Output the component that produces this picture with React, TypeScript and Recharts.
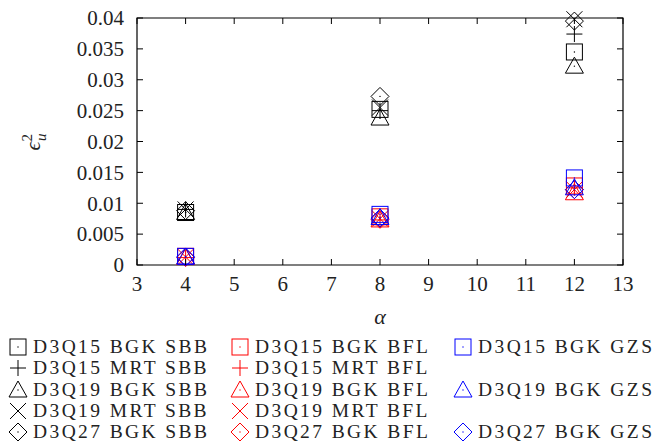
import { ScatterChart, Scatter, XAxis, YAxis, ReferenceArea } from 'recharts'

// alpha values on the x axis
const alphas = [4, 8, 12]
const xTicks = [3, 4, 5, 6, 7, 8, 9, 10, 11, 12, 13]
const yTicks = [0, 0.005, 0.01, 0.015, 0.02, 0.025, 0.03, 0.035, 0.04]

// error values, one per alpha
const d3q15BgkSbb = [0.0085, 0.0252, 0.0345]
const d3q15MrtSbb = [0.009, 0.025, 0.0374]
const d3q19BgkSbb = [0.0085, 0.0238, 0.0322]
const d3q19MrtSbb = [0.009, 0.0255, 0.0398]
const d3q27BgkSbb = [0.0088, 0.0273, 0.0395]
const d3q15BgkBfl = [0.0014, 0.0078, 0.0128]
const d3q15MrtBfl = [0.0012, 0.0073, 0.0125]
const d3q19BgkBfl = [0.0012, 0.0073, 0.0117]
const d3q19MrtBfl = [0.0013, 0.0075, 0.0122]
const d3q27BgkBfl = [0.0012, 0.0074, 0.0122]
const d3q15BgkGzs = [0.0014, 0.0082, 0.0141]
const d3q19BgkGzs = [0.0013, 0.0077, 0.0125]
const d3q27BgkGzs = [0.0013, 0.0076, 0.0122]

const BLACK = '#000000'
const RED = '#ff0000'
const BLUE = '#0000ff'

type Kind = 'square' | 'plus' | 'triangle' | 'cross' | 'diamond'

const series: { name: string; color: string; kind: Kind; values: number[] }[] = [
  { name: 'D3Q15 BGK SBB', color: BLACK, kind: 'square', values: d3q15BgkSbb },
  { name: 'D3Q15 MRT SBB', color: BLACK, kind: 'plus', values: d3q15MrtSbb },
  { name: 'D3Q19 BGK SBB', color: BLACK, kind: 'triangle', values: d3q19BgkSbb },
  { name: 'D3Q19 MRT SBB', color: BLACK, kind: 'cross', values: d3q19MrtSbb },
  { name: 'D3Q27 BGK SBB', color: BLACK, kind: 'diamond', values: d3q27BgkSbb },
  { name: 'D3Q15 BGK BFL', color: RED, kind: 'square', values: d3q15BgkBfl },
  { name: 'D3Q15 MRT BFL', color: RED, kind: 'plus', values: d3q15MrtBfl },
  { name: 'D3Q19 BGK BFL', color: RED, kind: 'triangle', values: d3q19BgkBfl },
  { name: 'D3Q19 MRT BFL', color: RED, kind: 'cross', values: d3q19MrtBfl },
  { name: 'D3Q27 BGK BFL', color: RED, kind: 'diamond', values: d3q27BgkBfl },
  { name: 'D3Q15 BGK GZS', color: BLUE, kind: 'square', values: d3q15BgkGzs },
  { name: 'D3Q19 BGK GZS', color: BLUE, kind: 'triangle', values: d3q19BgkGzs },
  { name: 'D3Q27 BGK GZS', color: BLUE, kind: 'diamond', values: d3q27BgkGzs },
]

// legend layout: column per boundary scheme, row per model
const legendCols = ['SBB', 'BFL', 'GZS']
const legendRows = ['D3Q15 BGK', 'D3Q15 MRT', 'D3Q19 BGK', 'D3Q19 MRT', 'D3Q27 BGK']

const PLOT_TOP = 18
const PLOT_BOTTOM = 265
const PLOT_LEFT = 137
const PLOT_RIGHT = 623
const TICK = 6
const serif = "'Liberation Serif', 'Times New Roman', serif"

function Marker({ cx, cy, kind, color }: { cx: number; cy: number; kind: Kind; color: string }) {
  const s = 8
  const dot = <circle cx={cx} cy={cy} r={0.7} fill={color} />
  if (kind === 'square') {
    return (
      <g>
        <rect x={cx - s} y={cy - s} width={2 * s} height={2 * s} fill="none" stroke={color} strokeWidth={1} />
        {dot}
      </g>
    )
  }
  if (kind === 'plus') {
    return (
      <g stroke={color} strokeWidth={1}>
        <line x1={cx - s} x2={cx + s} y1={cy} y2={cy} />
        <line x1={cx} x2={cx} y1={cy - s} y2={cy + s} />
      </g>
    )
  }
  if (kind === 'triangle') {
    return (
      <g>
        <polygon
          points={`${cx},${cy - 9} ${cx - 9},${cy + 7} ${cx + 9},${cy + 7}`}
          fill="none"
          stroke={color}
          strokeWidth={1}
        />
        {dot}
      </g>
    )
  }
  if (kind === 'cross') {
    return (
      <g stroke={color} strokeWidth={1}>
        <line x1={cx - s} x2={cx + s} y1={cy - s} y2={cy + s} />
        <line x1={cx - s} x2={cx + s} y1={cy + s} y2={cy - s} />
      </g>
    )
  }
  return (
    <g>
      <polygon
        points={`${cx},${cy - 9} ${cx + 9},${cy} ${cx},${cy + 9} ${cx - 9},${cy}`}
        fill="none"
        stroke={color}
        strokeWidth={1}
      />
      {dot}
    </g>
  )
}

const XTick = (props: any) => {
  const { x, payload } = props
  return (
    <g>
      <line x1={x} x2={x} y1={PLOT_BOTTOM} y2={PLOT_BOTTOM - TICK} stroke="#000" />
      <line x1={x} x2={x} y1={PLOT_TOP} y2={PLOT_TOP + TICK} stroke="#000" />
      <text x={x} y={PLOT_BOTTOM + 19} dy="0.35em" textAnchor="middle" fontFamily={serif} fontSize={21} fill="#222">
        {payload.value}
      </text>
    </g>
  )
}

const YTick = (props: any) => {
  const { y, payload } = props
  return (
    <g>
      <line x1={PLOT_LEFT} x2={PLOT_LEFT + TICK} y1={y} y2={y} stroke="#000" />
      <line x1={PLOT_RIGHT} x2={PLOT_RIGHT - TICK} y1={y} y2={y} stroke="#000" />
      <text x={PLOT_LEFT - 13} y={y} dy="0.35em" textAnchor="end" fontFamily={serif} fontSize={21} fill="#222">
        {String(payload.value)}
      </text>
    </g>
  )
}

const YLabel = () => (
  <text transform="rotate(-90, 32, 142)" x={32} y={142} textAnchor="middle" fontFamily={serif} fontSize={22} fill="#222" dy="0.35em">
    <tspan fontStyle="italic">ϵ</tspan>
    <tspan fontSize={15} dy={-8}>2</tspan>
    <tspan fontSize={15} fontStyle="italic" dx={-7} dy={14}>u</tspan>
  </text>
)

export default function App() {
  return (
    <div style={{ position: 'absolute', left: 0, top: 0, width: 670, height: 443, background: '#fff' }}>
      <ScatterChart width={670} height={330} margin={{ top: PLOT_TOP, right: 670 - PLOT_RIGHT, left: 0, bottom: 0 }}>
        <XAxis
          type="number"
          dataKey="alpha"
          domain={[3, 13]}
          ticks={xTicks}
          tick={<XTick />}
          tickLine={false}
          axisLine={false}
          height={65}
          interval={0}
          label={{ value: 'α', position: 'insideBottom', offset: 6, fontFamily: serif, fontSize: 22, fontStyle: 'italic', fill: '#222' }}
        />
        <YAxis
          type="number"
          dataKey="err"
          domain={[0, 0.04]}
          ticks={yTicks}
          tick={<YTick />}
          tickLine={false}
          axisLine={false}
          width={PLOT_LEFT}
          interval={0}
          label={<YLabel />}
        />
        <ReferenceArea x1={3} x2={13} y1={0} y2={0.04} fill="none" fillOpacity={0} stroke="#000" strokeWidth={1.2} ifOverflow="visible" />
        {series.map((s) => (
          <Scatter
            key={s.name}
            name={s.name}
            data={s.values.map((v, i) => ({ alpha: alphas[i], err: v }))}
            isAnimationActive={false}
            shape={(p: any) => <Marker cx={p.cx} cy={p.cy} kind={s.kind} color={s.color} />}
          />
        ))}
      </ScatterChart>
      {legendRows.map((row, ri) =>
        legendCols.map((col, ci) => {
          const s = series.find((d) => d.name === `${row} ${col}`)
          if (!s) return null
          const left = [8, 230, 453][ci]
          return (
            <div
              key={s.name}
              style={{
                position: 'absolute',
                left,
                top: 337 + ri * 21.3,
                height: 20,
                display: 'flex',
                alignItems: 'center',
                whiteSpace: 'nowrap',
              }}
            >
              <svg width={22} height={20} style={{ marginRight: 3 }}>
                <Marker cx={10} cy={10} kind={s.kind} color={s.color} />
              </svg>
              <span style={{ fontFamily: serif, fontSize: 19.5, lineHeight: '20px', letterSpacing: 2.4, color: '#222' }}>{s.name}</span>
            </div>
          )
        })
      )}
    </div>
  )
}
